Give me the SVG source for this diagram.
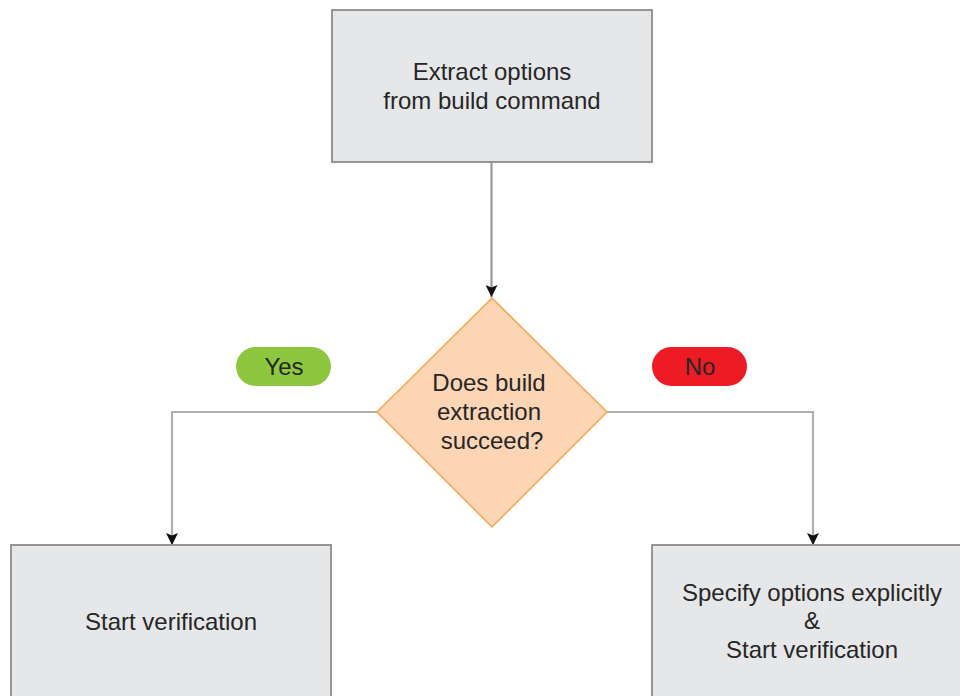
<svg xmlns="http://www.w3.org/2000/svg" width="960" height="696" viewBox="0 0 960 696">
<defs>
<marker id="arr" markerWidth="12" markerHeight="12" refX="10" refY="5" orient="auto" markerUnits="userSpaceOnUse" viewBox="0 0 10 10">
<path d="M0,0 L10,5 L0,10 L2,5 Z" fill="#111"/>
</marker>
</defs>
<style>
.box{fill:#e6e7e9;stroke:#8c8c8c;stroke-width:1.8}
.t{font-family:"Liberation Sans",Arial,sans-serif;font-size:24px;fill:#262626;text-anchor:middle}
.line{fill:none;stroke:#b0b0b0;stroke-width:2.2}
.vline{fill:none;stroke:#999;stroke-width:2.2}
</style>
<rect width="960" height="696" fill="#fff"/>
<g id="connectors">
<line class="vline" x1="491.5" y1="163" x2="491.5" y2="297" marker-end="url(#arr)"/>
<path class="line" d="M377,412 H172 V545" marker-end="url(#arr)"/>
<path class="line" d="M607,412 H813 V545" marker-end="url(#arr)"/>
</g>
<g id="extract">
<rect class="box" x="332" y="10" width="320" height="152"/>
<text class="t" x="492" y="80">Extract options</text>
<text class="t" x="492" y="109">from build command</text>
</g>
<g id="decision">
<polygon points="492,298 607,412 492,527 377,412" fill="#fcd5b4" stroke="#f5a64a" stroke-width="1.5"/>
<text class="t" x="489" y="391">Does build</text>
<text class="t" x="489" y="420">extraction</text>
<text class="t" x="492" y="449">succeed?</text>
</g>
<g id="yes">
<rect x="236" y="347" width="95" height="39" rx="19.5" fill="#8dc63f"/>
<text class="t" x="284" y="375">Yes</text>
</g>
<g id="no">
<rect x="652" y="347" width="95" height="39" rx="19.5" fill="#ed1c24"/>
<text class="t" x="700" y="375" fill="#1a1a1a">No</text>
</g>
<g id="start">
<rect class="box" x="11" y="545" width="320" height="170"/>
<text class="t" x="171" y="630">Start verification</text>
</g>
<g id="specify">
<rect class="box" x="652" y="545" width="330" height="170"/>
<text class="t" x="812" y="601">Specify options explicitly</text>
<text class="t" x="812" y="629">&amp;</text>
<text class="t" x="812" y="658">Start verification</text>
</g>
</svg>
